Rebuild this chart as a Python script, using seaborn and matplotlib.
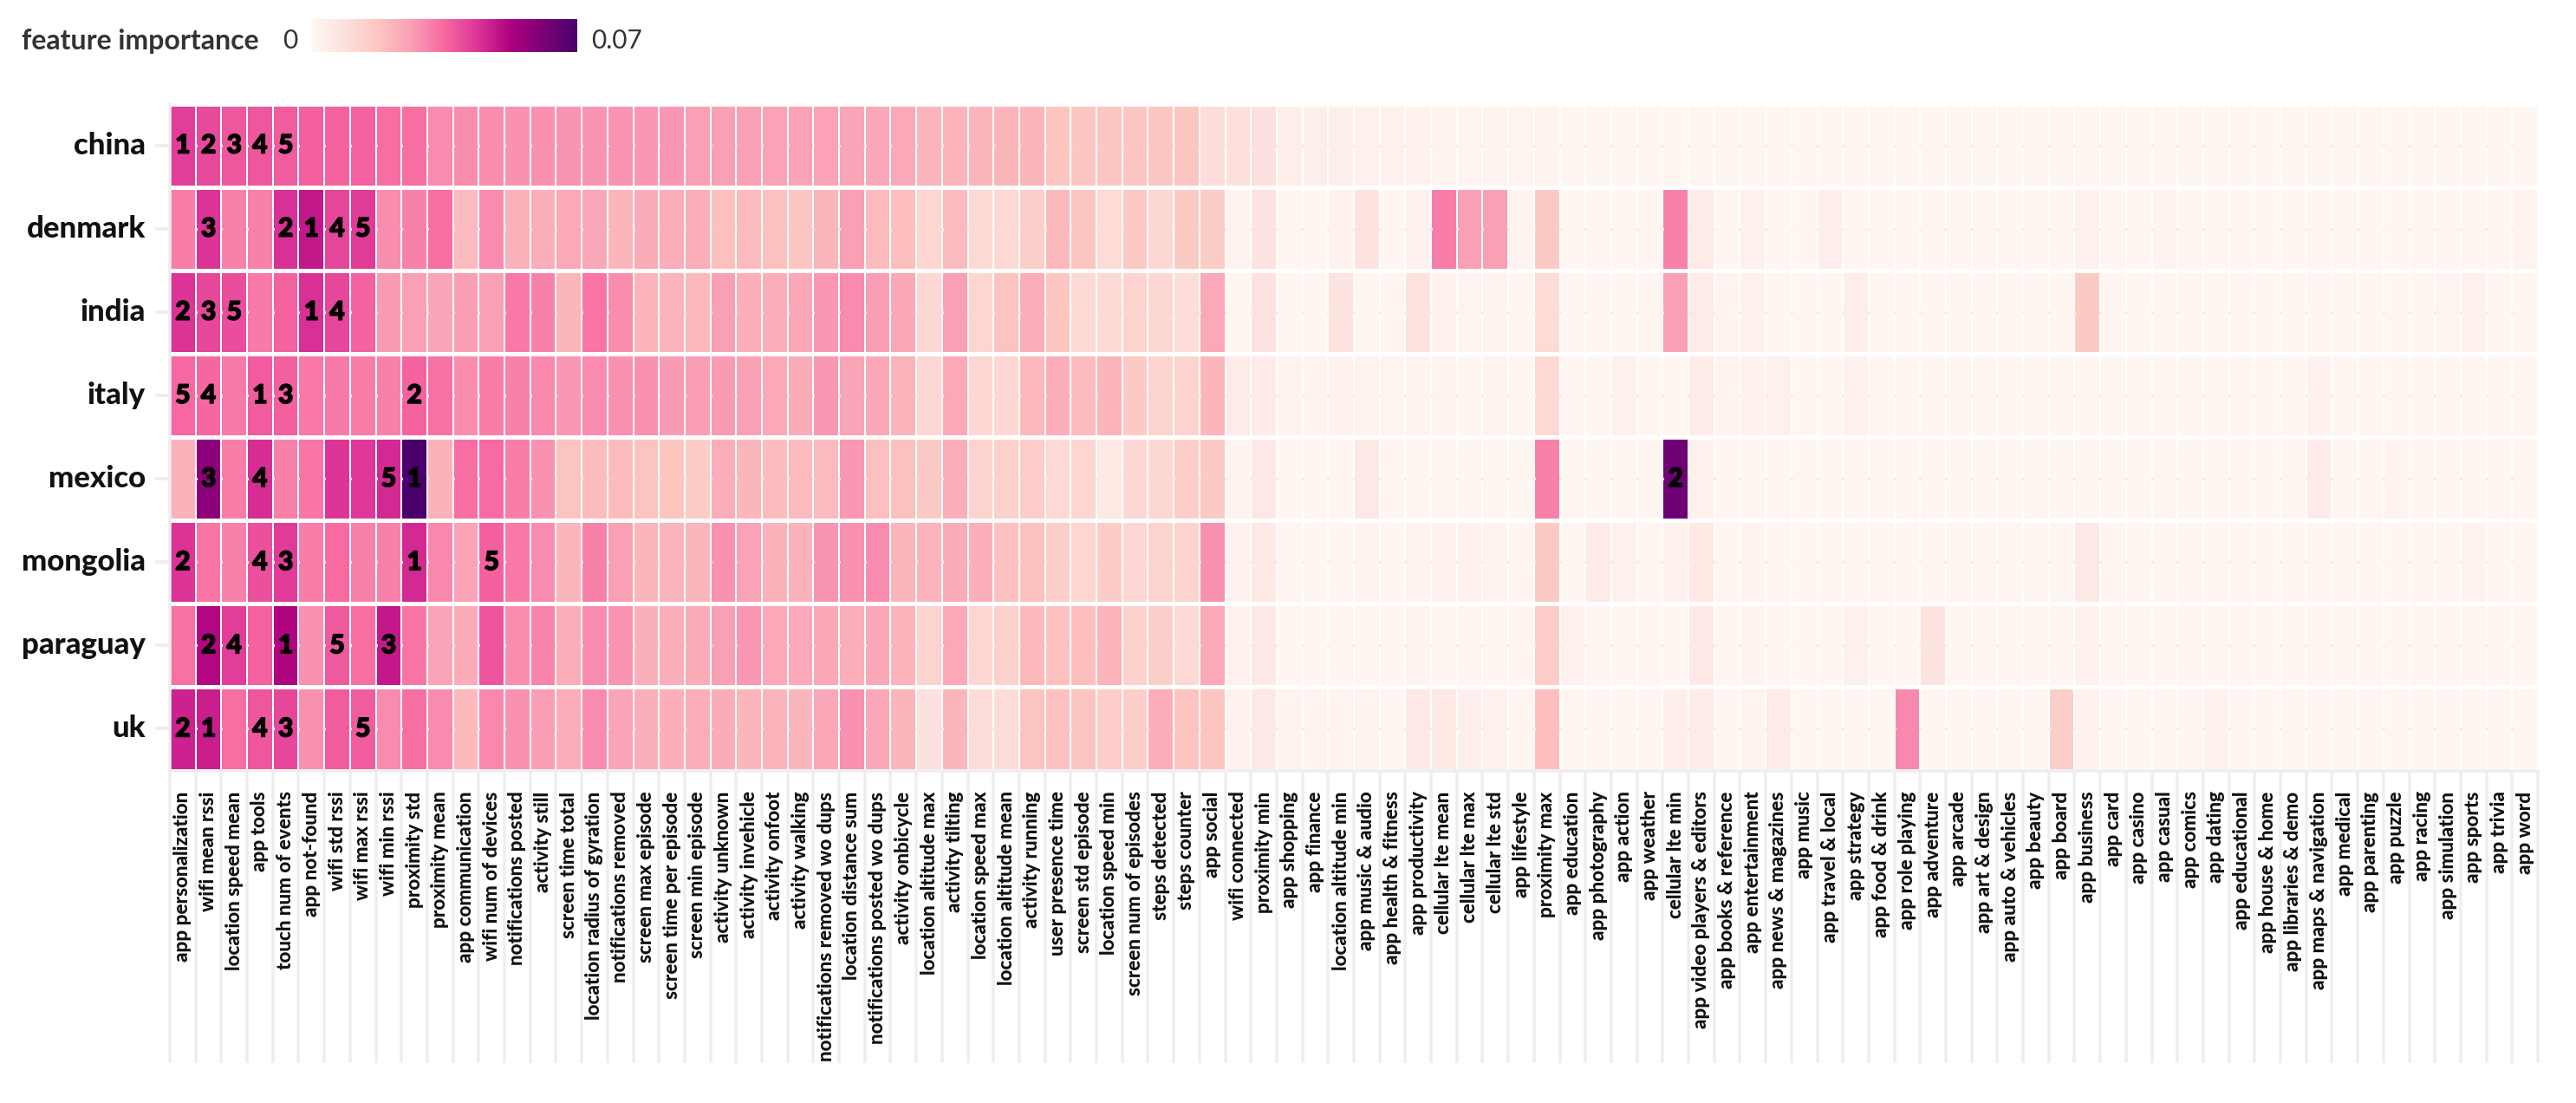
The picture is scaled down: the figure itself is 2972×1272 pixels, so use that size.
import numpy as np
import pandas as pd
import matplotlib
matplotlib.use("Agg")
import matplotlib.pyplot as plt
import matplotlib.patheffects as pe
import seaborn as sns

features = ["app personalization","wifi mean rssi","location speed mean","app tools","touch num of events",
"app not-found","wifi std rssi","wifi max rssi","wifi min rssi","proximity std","proximity mean","app communication",
"wifi num of devices","notifications posted","activity still","screen time total","location radius of gyration",
"notifications removed","screen max episode","screen time per episode","screen min episode","activity unknown",
"activity invehicle","activity onfoot","activity walking","notifications removed wo dups","location distance sum",
"notifications posted wo dups","activity onbicycle","location altitude max","activity tilting","location speed max",
"location altitude mean","activity running","user presence time","screen std episode","location speed min",
"screen num of episodes","steps detected","steps counter","app social","wifi connected","proximity min","app shopping",
"app finance","location altitude min","app music & audio","app health & fitness","app productivity","cellular lte mean",
"cellular lte max","cellular lte std","app lifestyle","proximity max","app education","app photography","app action",
"app weather","cellular lte min","app video players & editors","app books & reference","app entertainment",
"app news & magazines","app music","app travel & local","app strategy","app food & drink","app role playing",
"app adventure","app arcade","app art & design","app auto & vehicles","app beauty","app board","app business","app card",
"app casino","app casual","app comics","app dating","app educational","app house & home","app libraries & demo",
"app maps & navigation","app medical","app parenting","app puzzle","app racing","app simulation","app sports",
"app trivia","app word"]

countries = ["china","denmark","india","italy","mexico","mongolia","paraguay","uk"]

# importance, in thousandths
china = [42,40,38,38,37,36.5,36,36,34,34,29.5,29,29,28.5,28.5,28,28,28,27.5,27.5,
26,26,26,25.5,25.5,25.5,25,24.5,24,21.5,21.5,21,21,21,17.5,17,17,17,17,17,
10,9,8.5,4,3.5,3.5,2.6,2.6,2,1.4,1.4,1.4,1.4,1.4,.9,.9,.9,.9,.9,.9,
.9,.9,.9,.9,.9,.9,.9,.9,.9,.9,.9,.9,.9,.9,.9,.9,.9,.9,.9,.9,.9,.9,.9,.9,.9,.9,.9,.9,.9,.9,.9,.9]
denmark = [31.5,44,31,31,44.5,48.5,41,42.5,29,31,34,20,29.5,22,23,24,24.5,21,23.5,23,
23,18.5,20,18.5,17,21,26,19.5,19,12.5,20,11,11,14.5,20.5,17.5,10.5,16.5,11.5,16,
15.5,1.4,7.5,.4,.9,2,7.5,.9,2.6,31.5,26,26,1.4,16,.6,.9,.9,.6,31,5,
.6,2.6,.9,.6,3.5,.9,.9,.6,.9,.9,.9,.9,.9,.9,2.6,.9,.9,1.4,.9,.9,.9,.9,.9,.9,.9,.9,.9,.9,.9,.9,.9,1.4]
india = [44,40.5,39.5,32,36,44.5,40.5,36,27,26,25,26.5,26,32.5,31,21,33,29,21.5,21.5,
20.5,26,22.5,23,24.5,27.5,29.5,26.5,24.5,12,26,12.5,18,23,17.5,11,11,13,12,10,
24,.6,8,.6,.9,7.5,.6,.9,8,2,1.4,1.4,.9,10.5,.6,.6,.6,.6,26,5,
1.4,2.6,.9,.6,.6,4,.9,.9,.9,.9,.9,.9,.9,.9,16,.9,.9,.9,.9,.9,.9,.9,.9,.9,.9,.9,.9,.9,1.4,2.6,.9,.9]
italy = [35,35.5,32,37,36.5,32.5,32,31.5,31,36,33.5,29,31.5,31,30,27.5,29.5,28.5,28.5,27,
26.5,27,26,24,23.5,27.5,25,24.5,21.5,12,24,12,12,20.5,23,20,21.5,16,13,13,
21,4.5,4.5,1.4,1.4,2,1.4,1.4,1.4,1.4,.9,1.4,.9,11,.6,.9,2.6,.6,.6,5,
1.4,2,3,.6,.9,2,.9,.9,.9,.9,.9,.9,.9,.9,.9,.9,.9,.9,.9,.9,.9,.9,.9,2,.9,.9,.9,.9,.9,.9,.9,.9]
mexico = [22,58,31.5,45,31,33,43.5,43,45.5,70,22,34,34.5,31.5,28.5,18,19.5,19.5,18,17.5,
15.5,23,21,19.5,20,20,27.5,18.5,18.5,16,23,13,14,15,11,12.5,5.5,11.5,12,14.5,
16,1.4,6,.6,.9,.9,6,.6,.6,.6,.9,.9,.6,31,.6,.9,.9,.9,63,2.6,
.9,.9,.9,.9,.9,.9,.9,.9,.9,.9,.9,.9,.9,.9,.9,.9,.9,.9,.9,.9,.9,.9,.9,4.5,.9,.9,1.4,.9,.9,.9,.9,.9]
mongolia = [44,33,31,39,42.5,31.5,34.5,31,31,45.5,30,25.5,36.5,32.5,29.5,21,31,26,21,21.5,
21,28.5,25.5,22,22,28,28.5,29.5,21,21.5,23.5,22.5,18.5,18.5,14.5,12.5,15.5,11.5,13,13,
28.5,2,5.5,.9,.6,.9,1.4,.6,1.4,2,2.6,1.4,.9,16,.6,4.5,2.6,.9,2,5.5,
.9,1.4,.9,.9,.9,.9,.9,.9,.9,.9,.9,.9,.9,.9,6,.9,.9,.9,.9,.9,.9,.9,.9,.9,.9,.9,.9,.9,.9,1.4,.9,.9]
paraguay = [33.5,51.5,42,36,52,28.5,37.5,34,48.5,33,25,23.5,38.5,29,30.5,23,29.5,28,22.5,23,
23.5,26,27.5,24,24,24.5,23,24.5,21.5,13,24,12.5,14,20.5,18.5,19,21.5,13.5,14.5,11,
24,2,6,.6,.6,.6,.6,.6,1.4,.9,.9,.9,.9,15,2.6,.9,.9,.6,.6,6,
.9,1.4,.9,.6,.6,3,.9,.6,7.5,.9,.9,.9,.9,.9,2,.9,.9,.9,.9,.9,.9,.9,.9,.9,.9,.9,.9,.9,.9,.9,.9,.9]
uk = [47,47.5,34,38,40.5,28.5,37,37,29.5,34,29.5,20.5,30,28.5,26.5,23,29.5,25,22.5,22.5,
23,23.5,21,21.5,21,24.5,28.5,24.5,21,8.5,21,10,10,18,18.5,18,15,14.5,23,18,
17.5,2,6,1.4,1.4,1.4,1.4,.9,6,5.5,3.5,3,.9,19,.9,.6,.6,.9,3.5,5,
.9,1.4,5,.9,.9,.9,.9,30,.4,.6,.6,.6,.9,14.5,2,.9,.9,.9,.9,2,.9,.9,.9,.9,.9,.9,.9,.9,.9,.9,.9,.9]

# features ranked 1 to 5 per country
top_china = ["app personalization","wifi mean rssi","location speed mean","app tools","touch num of events"]
top_denmark = ["app not-found","touch num of events","wifi mean rssi","wifi std rssi","wifi max rssi"]
top_india = ["app not-found","app personalization","wifi mean rssi","wifi std rssi","location speed mean"]
top_italy = ["app tools","proximity std","touch num of events","wifi mean rssi","app personalization"]
top_mexico = ["proximity std","cellular lte min","wifi mean rssi","app tools","wifi min rssi"]
top_mongolia = ["proximity std","app personalization","touch num of events","app tools","wifi num of devices"]
top_paraguay = ["touch num of events","wifi mean rssi","wifi min rssi","location speed mean","wifi std rssi"]
top_uk = ["wifi mean rssi","app personalization","touch num of events","app tools","wifi max rssi"]

W, H = 2972, 1272
px = 0.72
GREY = "#eeeeee"
FONT = ["Lato", "DejaVu Sans"]

sns.set_theme(style="white")
plt.rcParams["font.family"] = FONT

df = pd.DataFrame(np.array([china, denmark, india, italy, mexico, mongolia, paraguay, uk]) / 1000,
                  index=countries, columns=features)
tops = dict(zip(countries, [top_china, top_denmark, top_india, top_italy, top_mexico, top_mongolia, top_paraguay, top_uk]))

fig = plt.figure(figsize=(W / 100, H / 100), dpi=100)
ax = fig.add_axes([196 / W, 1 - 888.5 / H, (2928 - 196) / W, (888.5 - 119.5) / H])
cax = fig.add_axes([360 / W, 1 - 60 / H, 306 / W, 38 / H])

sns.heatmap(df, cmap="RdPu", vmin=0, vmax=0.07, ax=ax, cbar_ax=cax,
            cbar_kws={"orientation": "horizontal", "ticks": []})
ax.collections[0].colorbar.outline.set_visible(False)

nr, nc = df.shape
ax.vlines(np.arange(nc + 1), 0, nr, color="white", lw=2 * px, zorder=2)
ax.hlines(np.arange(nr + 1), 0, nc, color="white", lw=5 * px, zorder=2)

# grid showing through the gaps between the cells
gx, gy = np.meshgrid(np.arange(1, nc), np.arange(nr) + 0.5)
ax.scatter(gx.ravel(), gy.ravel(), marker="s", s=(3 * px) ** 2, color=GREY, linewidths=0, zorder=3)

ax.set_xticks(np.arange(nc) + 0.5, labels=features, rotation=90, fontsize=16.2, fontweight="black", color="#111111")
ax.set_xticks(np.arange(nc + 1), minor=True)
ax.set_yticks(np.arange(nr) + 0.5, labels=countries, rotation=0, fontsize=25, fontweight="black", color="#111111")
ax.tick_params(axis="x", which="major", length=0, pad=24 * px)
ax.tick_params(axis="x", which="minor", length=337 * px, width=3.5 * px, color=GREY, bottom=True)
ax.tick_params(axis="y", which="major", length=17 * px, width=4 * px, color=GREY, pad=11 * px, left=True)
for side in ("left", "bottom"):
    ax.spines[side].set_visible(True)
    ax.spines[side].set_color(GREY)
    ax.spines[side].set_linewidth(3.5 * px)

for r, country in enumerate(countries):
    for rank, feat in enumerate(tops[country], start=1):
        ax.text(features.index(feat) + 0.5, r + 0.5, str(rank), ha="center", va="center",
                fontsize=21.5, fontweight="black", color="black", zorder=4,
                path_effects=[pe.withStroke(linewidth=1.1, foreground="black")])

fig.text(25 / W, 1 - 47 / H, "feature importance", ha="left", va="center", fontsize=23, fontweight="bold", color="#333333")
fig.text(335 / W, 1 - 47 / H, "0", ha="center", va="center", fontsize=21.5, color="#333333")
fig.text(682 / W, 1 - 47 / H, "0.07", ha="left", va="center", fontsize=21.5, color="#333333")

fig.savefig("out.png", dpi=100, facecolor="white")
